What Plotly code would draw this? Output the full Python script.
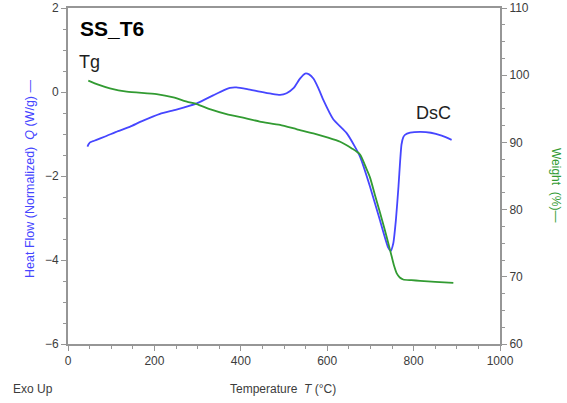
import plotly.graph_objects as go

# DSC heat flow (left axis)
dsc_T = [45, 48, 51, 58, 66, 86, 116, 143, 170, 213, 251, 298, 336, 360, 375, 390, 415, 444, 470, 491, 506, 522, 537, 549, 558, 568, 580, 591, 614, 645, 664, 676, 699, 722, 741, 747, 753, 759, 765, 769, 772, 776, 780, 792, 815, 840, 865, 888]
dsc_Q = [-1.30, -1.24, -1.2, -1.17, -1.14, -1.06, -0.93, -0.83, -0.7, -0.52, -0.42, -0.27, -0.08, 0.04, 0.1, 0.11, 0.07, 0.01, -0.04, -0.07, -0.03, 0.09, 0.32, 0.44, 0.42, 0.32, 0.08, -0.19, -0.65, -0.98, -1.3, -1.54, -2.25, -3.05, -3.7, -3.78, -3.6, -3.05, -2.25, -1.62, -1.25, -1.08, -1.02, -0.97, -0.95, -0.97, -1.04, -1.14]

# TGA weight (right axis)
tga_T = [47, 70, 97, 136, 205, 244, 275, 298, 330, 367, 410, 444, 491, 530, 568, 600, 630, 657, 676, 690, 699, 710, 722, 732, 741, 749, 755, 761, 768, 776, 795, 815, 850, 892]
tga_W = [99.2, 98.6, 98.05, 97.55, 97.2, 96.7, 96.06, 95.7, 94.9, 94.2, 93.6, 93.1, 92.6, 91.95, 91.35, 90.75, 90.1, 89.1, 88.2, 86.2, 84.8, 82.3, 79.6, 77.3, 75.1, 73.1, 71.6, 70.5, 69.9, 69.6, 69.5, 69.4, 69.25, 69.1]

x_ticks = [0, 200, 400, 600, 800, 1000]
y_ticks = [-6, -4, -2, 0, 2]
y2_ticks = [60, 70, 80, 90, 100, 110]

BLUE = "rgb(70,70,255)"
GREEN = "rgb(50,155,50)"
AXC = "rgb(150,150,150)"
TXT = "rgb(60,60,60)"
FONT = "Liberation Sans, Arial, sans-serif"

W, H = 567, 403
ML, MR, MT, MB = 68, 67, 8, 59

fig = go.Figure()
fig.add_trace(go.Scatter(x=dsc_T, y=dsc_Q, mode="lines", line=dict(color=BLUE, width=1.8, shape="spline", smoothing=0.5), yaxis="y", showlegend=False))
fig.add_trace(go.Scatter(x=tga_T, y=tga_W, mode="lines", line=dict(color=GREEN, width=1.8, shape="spline", smoothing=0.6), yaxis="y2", showlegend=False))

fig.update_layout(
    width=W, height=H,
    margin=dict(l=ML, r=MR, t=MT, b=MB, autoexpand=False),
    plot_bgcolor="white", paper_bgcolor="white",
    font=dict(family=FONT, size=12, color=TXT),
    xaxis=dict(range=[0, 1000], tickvals=x_ticks, showgrid=False, zeroline=False, automargin=False,
               showline=True, linecolor=AXC, linewidth=2, mirror=True,
               ticks="outside", ticklen=5, tickcolor=AXC,
               minor=dict(dtick=50, ticks="outside", ticklen=3, tickcolor=AXC),
               tickfont=dict(size=12, color=TXT)),
    yaxis=dict(range=[-6, 2], tickvals=y_ticks, showgrid=False, zeroline=False, automargin=False,
               showline=True, linecolor=AXC, linewidth=2,
               ticks="outside", ticklen=5, tickcolor=AXC,
               minor=dict(dtick=0.5, ticks="outside", ticklen=3, tickcolor=AXC),
               tickfont=dict(size=12, color=TXT)),
    yaxis2=dict(range=[60, 110], tickvals=y2_ticks, overlaying="y", side="right",
                showgrid=False, zeroline=False, automargin=False,
                showline=True, linecolor=AXC, linewidth=2,
                ticks="outside", ticklen=5, tickcolor=AXC,
                minor=dict(dtick=2.5, ticks="outside", ticklen=3, tickcolor=AXC),
                tickfont=dict(size=12, color=TXT)),
)

ann = [
    dict(text="<b>SS_T6</b>", x=78, y=28, font=dict(size=21, color="black"), xanchor="left"),
    dict(text="Tg", x=77, y=62, font=dict(size=18, color="rgb(30,30,30)"), xanchor="left"),
    dict(text="DsC", x=414, y=113, font=dict(size=18, color="rgb(30,30,30)"), xanchor="left"),
    dict(text="Heat Flow (Normalized)  <i>Q</i> (W/g) \u2014", x=30, y=179, textangle=-90, font=dict(size=12.5, color=BLUE)),
    dict(text="Weight  (%)\u2014", x=556, y=185, textangle=90, font=dict(size=12, color=GREEN)),
    dict(text="Temperature  <i>T</i> (\u00b0C)", x=283, y=389, font=dict(size=12, color=TXT)),
    dict(text="Exo Up", x=11, y=389, font=dict(size=12, color=TXT), xanchor="left"),
]
pw = W - ML - MR
ph = H - MT - MB
for a in ann:
    fig.add_annotation(text=a["text"], x=(a["x"] - ML) / pw, y=(H - MB - a["y"]) / ph,
                       xref="paper", yref="paper",
                       xanchor=a.get("xanchor", "center"), yanchor="middle", showarrow=False,
                       textangle=a.get("textangle", 0), font=dict(family=FONT, **a["font"]))

fig.write_html("out.html")
